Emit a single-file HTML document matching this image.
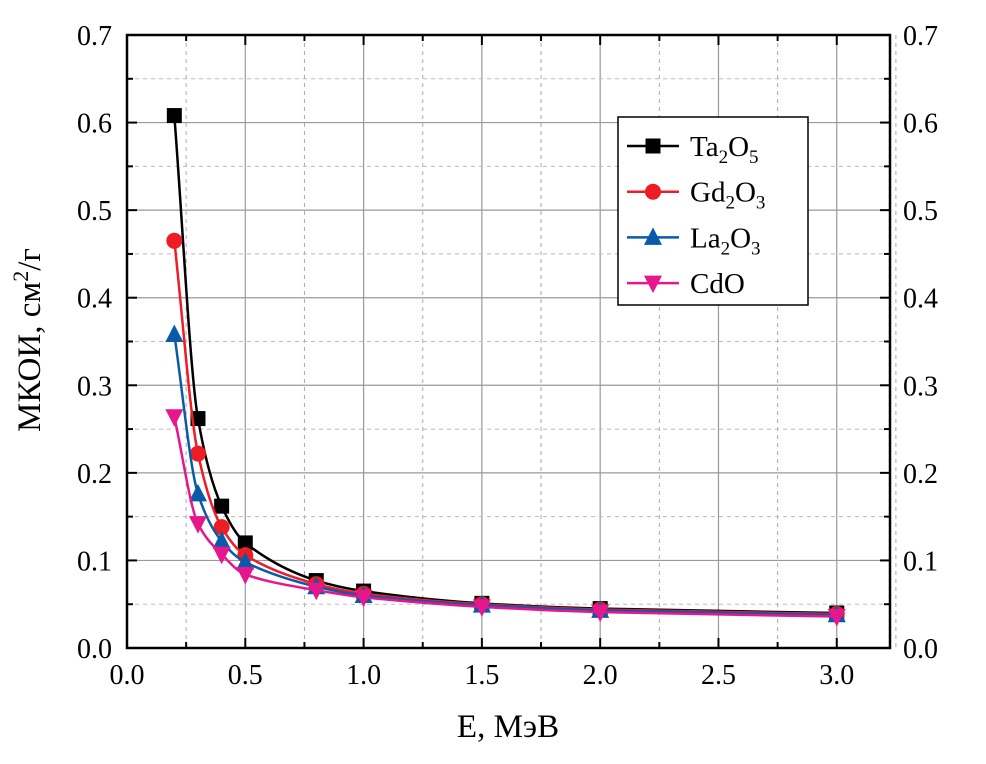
<!DOCTYPE html>
<html><head><meta charset="utf-8"><style>
body{margin:0;background:#fff}
svg text{font-family:"Liberation Serif",serif;fill:#000}
</style></head><body>
<svg id="c" width="986" height="759"></svg>
<script>
const xs=[0.2,0.3,0.4,0.5,0.8,1.0,1.5,2.0,3.0];
const ta2o5=[0.608,0.262,0.162,0.120,0.077,0.065,0.051,0.045,0.040];
const gd2o3=[0.465,0.222,0.138,0.106,0.073,0.062,0.050,0.044,0.039];
const la2o3=[0.358,0.176,0.122,0.098,0.070,0.060,0.049,0.043,0.038];
const cdo=[0.264,0.142,0.107,0.084,0.066,0.058,0.047,0.041,0.036];
const xTicks=["0.0","0.5","1.0","1.5","2.0","2.5","3.0"];
const yTicks=["0.0","0.1","0.2","0.3","0.4","0.5","0.6","0.7"];
const NS="http://www.w3.org/2000/svg";
const svg=document.getElementById('c');
const L=127,R=890,T=35,B=648;
const X=v=>L+v*(R-L)/3.225;
const Y=v=>B-v*(B-T)/0.7;
function mk(t,a,p){const e=document.createElementNS(NS,t);for(const k in a)e.setAttribute(k,a[k]);(p||svg).appendChild(e);return e;}
for(let i=1;i<=6;i++){const v=i*0.5;let e=mk('line',{x1:X(v),x2:X(v),y1:T,y2:B,stroke:'#999','stroke-width':1.2});}
for(let i=0;i<=6;i++){const v=i*0.5+0.25;let e=mk('line',{x1:X(v),x2:X(v),y1:T,y2:B,stroke:'#aaa','stroke-width':1,'stroke-dasharray':'4,4'});}
for(let i=1;i<=6;i++){const v=i*0.1;let e=mk('line',{x1:L,x2:R,y1:Y(v),y2:Y(v),stroke:'#999','stroke-width':1.2});}
for(let i=0;i<7;i++){const v=i*0.1+0.05;let e=mk('line',{x1:L,x2:R,y1:Y(v),y2:Y(v),stroke:'#bbb','stroke-width':1,'stroke-dasharray':'4,4'});}
let fr=mk('rect',{x:L,y:T,width:R-L,height:B-T,fill:'none',stroke:'#000','stroke-width':2.5});

for(let i=0;i<=12;i++){const v=i*0.25,len=i%2?6:10;mk('line',{x1:X(v),x2:X(v),y1:B,y2:B-len,stroke:'#000','stroke-width':2});mk('line',{x1:X(v),x2:X(v),y1:T,y2:T+len,stroke:'#000','stroke-width':2});}
for(let i=0;i<=14;i++){const v=i*0.05,len=i%2?6:10;mk('line',{x1:L,x2:L+len,y1:Y(v),y2:Y(v),stroke:'#000','stroke-width':2});mk('line',{x1:R,x2:R-len,y1:Y(v),y2:Y(v),stroke:'#000','stroke-width':2});}
xTicks.forEach((t,i)=>{const e=mk('text',{x:X(i*0.5),y:B+36,'text-anchor':'middle','font-size':28});e.textContent=t;});
yTicks.forEach((t,i)=>{let e=mk('text',{x:L-15,y:Y(i*0.1)+10,'text-anchor':'end','font-size':28});e.textContent=t;
e=mk('text',{x:R+13,y:Y(i*0.1)+10,'text-anchor':'start','font-size':28});e.textContent=t;});
let xt=mk('text',{x:508,y:737,'text-anchor':'middle','font-size':33});xt.textContent='E, МэВ';

let yt=mk('text',{transform:'translate(40,340) rotate(-90)','text-anchor':'middle','font-size':33});
yt.innerHTML='МКОИ, см<tspan dy="-12" font-size="22">2</tspan><tspan dy="12">/г</tspan>';

function smooth(pts){const n=pts.length;const d=[],m=[];for(let i=0;i<n-1;i++)d.push((pts[i+1][1]-pts[i][1])/(pts[i+1][0]-pts[i][0]));
m[0]=d[0];m[n-1]=d[n-2];for(let i=1;i<n-1;i++)m[i]=d[i-1]*d[i]<=0?0:2/(1/d[i-1]+1/d[i]);
let s=`M${pts[0][0]},${pts[0][1]}`;for(let i=0;i<n-1;i++){const h=(pts[i+1][0]-pts[i][0])/3;s+=`C${pts[i][0]+h},${pts[i][1]+m[i]*h} ${pts[i+1][0]-h},${pts[i+1][1]-m[i+1]*h} ${pts[i+1][0]},${pts[i+1][1]}`;}return s;}
function marker(type,x,y,col,g){if(type==='sq')return mk('rect',{x:x-7.5,y:y-7.5,width:15,height:15,fill:col},g);
if(type==='ci')return mk('circle',{cx:x,cy:y,r:8,fill:col},g);
if(type==='tu')return mk('polygon',{points:`${x},${y-10} ${x-9},${y+7.5} ${x+9},${y+7.5}`,fill:col},g);
return mk('polygon',{points:`${x},${y+10} ${x-9},${y-7.5} ${x+9},${y-7.5}`,fill:col},g);}
const series=[['ta2o5',ta2o5,'#000','sq'],['gd2o3',gd2o3,'#ee1c25','ci'],['la2o3',la2o3,'#0a5aaa','tu'],['cdo',cdo,'#e6168c','td']];
series.forEach(([nm,vals,col,mt])=>{const g=mk('g',{});
const pts=xs.map((x,i)=>[X(x),Y(vals[i])]);mk('path',{d:smooth(pts),fill:'none',stroke:col,'stroke-width':2.5},g);
pts.forEach(p=>{const e=marker(mt,p[0],p[1],col,g);});});
const lg=mk('g',{});
mk('rect',{x:618,y:117,width:190,height:188,fill:'#fff',stroke:'#000','stroke-width':1.5},lg);
const labs=['Ta<tspan dy="7" font-size="19">2</tspan><tspan dy="-7">O</tspan><tspan dy="7" font-size="19">5</tspan>','Gd<tspan dy="7" font-size="19">2</tspan><tspan dy="-7">O</tspan><tspan dy="7" font-size="19">3</tspan>','La<tspan dy="7" font-size="19">2</tspan><tspan dy="-7">O</tspan><tspan dy="7" font-size="19">3</tspan>','CdO'];
series.forEach(([nm,vals,col,mt],i)=>{const y=146+i*45.7;const g=mk('g',{},lg);
mk('line',{x1:627,x2:679,y1:y,y2:y,stroke:col,'stroke-width':2.5},g);marker(mt,653,y,col,g);
const t=mk('text',{x:690,y:y+10,'font-size':29},g);t.innerHTML=labs[i];});
</script>
</body></html>
